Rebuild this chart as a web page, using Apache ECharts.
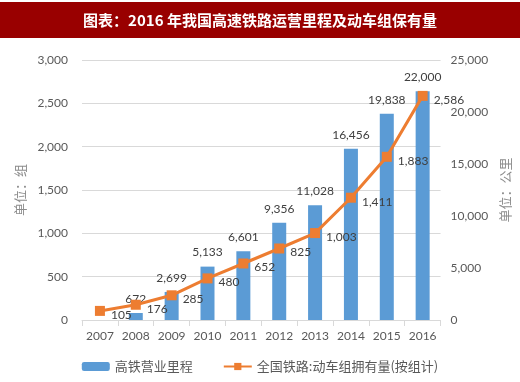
<!DOCTYPE html>
<html><head><meta charset="utf-8">
<script src="https://cdn.jsdelivr.net/npm/echarts@6/dist/echarts.min.js"></script>
<style>html,body{margin:0;padding:0;background:#fff;}#c{width:520px;height:382px;}</style>
</head><body><div id="c"></div>
<script>
const years = ['2007','2008','2009','2010','2011','2012','2013','2014','2015','2016'];
const mileage = [null,672,2699,5133,6601,9356,11028,16456,19838,22000];
const emu = [105,176,285,480,652,825,1003,1411,1883,2586];
const leftTicks = [0,500,1000,1500,2000,2500,3000];
const rightTicks = [0,5000,10000,15000,20000,25000];

const fmt = v => v.toLocaleString('en-US');
const chart = echarts.init(document.getElementById('c'));
const font = 'Lato, "Noto Sans CJK SC", sans-serif';
chart.setOption({
  animation:false,
  graphic:[
    {type:'rect',shape:{x:0,y:2,width:520,height:36},style:{fill:'#990000'}},
    {type:'text',x:260,y:20,style:{text:'图表：2016 年我国高速铁路运营里程及动车组保有量',fill:'#fff',font:'bold 15px "Noto Sans CJK SC", serif',textAlign:'center',textVerticalAlign:'middle'}}
  ],
  grid:{left:82,right:78,top:60,bottom:62},
  legend:{bottom:4,left:'center',itemGap:30,itemWidth:28,itemHeight:9,textStyle:{color:'#595959',fontSize:13,fontFamily:'"Noto Sans CJK SC", sans-serif'},
    data:[{name:'高铁营业里程'},{name:'全国铁路:动车组拥有量(按组计)'}]},
  xAxis:{type:'category',data:years,axisLine:{lineStyle:{color:'#d9d9d9'}},axisTick:{show:true,length:6,interval:0,lineStyle:{color:'#d9d9d9'}},
    axisLabel:{color:'#595959',fontSize:12,fontFamily:font,margin:10,interval:0}},
  yAxis:[
    {type:'value',min:0,max:3000,interval:500,name:'单位：组',nameLocation:'middle',nameGap:52,nameRotate:90,
     nameTextStyle:{color:'#8c8c8c',fontSize:13,fontFamily:'"Noto Sans CJK SC", serif'},
     axisLabel:{color:'#595959',fontSize:12,fontFamily:font,formatter:v=>fmt(v),margin:14},
     splitLine:{lineStyle:{color:'#d9d9d9'}},axisLine:{show:false},axisTick:{show:false}},
    {type:'value',min:0,max:25000,interval:5000,name:'单位：公里',nameLocation:'middle',nameGap:50,nameRotate:90,
     nameTextStyle:{color:'#8c8c8c',fontSize:13,fontFamily:'"Noto Sans CJK SC", serif'},
     axisLabel:{color:'#595959',fontSize:12,fontFamily:font,formatter:v=>fmt(v),margin:10},
     splitLine:{show:false},axisLine:{show:false},axisTick:{show:false}}
  ],
  series:[
    {name:'高铁营业里程',type:'bar',yAxisIndex:1,data:mileage,barWidth:14,itemStyle:{color:'#5B9BD5'},
     label:{show:true,position:'top',distance:8,color:'#404040',fontSize:12,fontFamily:font,formatter:p=>fmt(p.value)}},
    {name:'全国铁路:动车组拥有量(按组计)',type:'line',yAxisIndex:0,data:emu,symbol:'rect',symbolSize:10,
     lineStyle:{color:'#ED7D31',width:3},itemStyle:{color:'#ED7D31'},
     label:{show:true,position:'right',distance:6,offset:[0,4],color:'#404040',fontSize:12,fontFamily:font,formatter:p=>fmt(p.value)}}
  ]
});
</script></body></html>
